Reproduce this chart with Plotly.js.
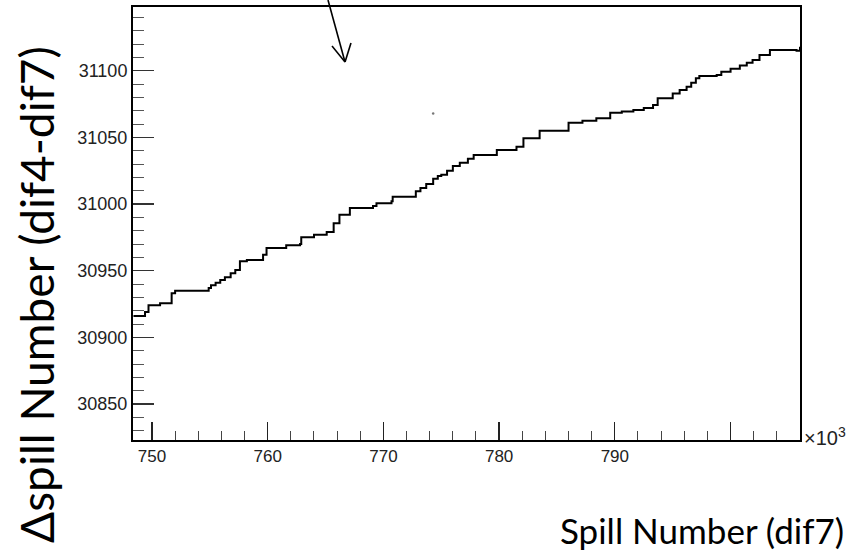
<!DOCTYPE html>
<html>
<head>
<meta charset="utf-8">
<script src="https://cdn.plot.ly/plotly-3.0.1.min.js"></script>
<style>html,body{margin:0;padding:0;background:#fff;}#chart{width:853px;height:552px;}</style>
</head>
<body>
<div id="chart"></div>
<script>
// Spill number (dif7), in units of 10^3
const spillX = [748.4, 749.4, 749.7, 750.7, 751.7, 752.0, 754.9, 755.1, 755.5, 755.9, 756.3, 756.8, 757.2, 757.6, 758.2,
  759.6, 759.9, 761.5, 761.6, 762.8, 762.9, 764.0, 765.1, 765.7, 766.2, 767.1, 769.1, 769.4, 770.7, 770.8,
  772.8, 773.2, 773.7, 774.3, 774.7, 775.0, 775.5, 776.0, 776.6, 777.3, 777.8, 779.8, 781.5, 782.1, 783.5,
  785.5, 786.0, 787.2, 788.4, 789.6, 790.6, 791.6, 792.5, 793.3, 793.7, 795.0, 795.6, 796.2, 796.6, 797.0,
  797.3, 798.8, 799.2, 800.0, 800.8, 801.4, 801.9, 802.5, 803.4, 805.7, 806.0];
// Δspill number (dif4 - dif7)
const deltaSpill = [30916, 30919, 30924, 30925.5, 30933, 30935, 30937, 30939, 30941, 30943, 30945, 30948, 30950.5, 30957, 30958,
  30962, 30967, 30967, 30969, 30970, 30975, 30977, 30979, 30985.5, 30992, 30997, 30998.5, 31000.5, 31002, 31005.5,
  31009.5, 31012, 31015, 31019, 31021, 31022, 31025, 31028.5, 31031, 31034, 31036.8, 31040.5, 31043, 31049.3, 31055,
  31055, 31061, 31062.5, 31064.3, 31068.5, 31069.5, 31070.5, 31072, 31074.3, 31079.3, 31083, 31085.5, 31088, 31091, 31094.3,
  31096, 31096.8, 31099.3, 31101.5, 31104, 31106, 31108, 31111.8, 31115.5, 31115, 31118];
// stray point
const strayX = [774.3];
const strayY = [31068];

const xTickVals = [750, 760, 770, 780, 790, 800];
const xTickText = ['750', '760', '770', '780', '790', ''];

const L = 133, R = 800, T = 7, B = 440, W = 853, H = 552;
const pw = R - L, ph = B - T;
const px = v => (v - L) / pw;
const py = v => (B - v) / ph;

const traces = [
  {x: spillX, y: deltaSpill, type: 'scatter', mode: 'lines',
   line: {color: '#000', width: 2, shape: 'hv'}, hoverinfo: 'skip', showlegend: false},
  {x: strayX, y: strayY, type: 'scatter', mode: 'markers',
   marker: {color: '#777', size: 2.5}, hoverinfo: 'skip', showlegend: false}
];

const tickFont = {family: '"Liberation Sans", Arial, sans-serif', size: 18, color: '#222'};

function seg(x0, y0, x1, y1) {
  return {type: 'line', xref: 'paper', yref: 'paper', x0: px(x0), y0: py(y0), x1: px(x1), y1: py(y1),
          line: {color: '#000', width: 1.6}, layer: 'above'};
}

const layout = {
  width: W, height: H,
  margin: {l: L, r: W - R, t: T, b: H - B, pad: 0},
  paper_bgcolor: '#fff', plot_bgcolor: '#fff',
  showlegend: false,
  xaxis: {
    range: [748.36, 806.0], showgrid: false, zeroline: false,
    showline: true, mirror: true, linecolor: '#000', linewidth: 2,
    tickmode: 'array', tickvals: xTickVals, ticktext: xTickText,
    ticks: 'inside', ticklen: 18, tickwidth: 1.3, tickcolor: '#222',
    minor: {dtick: 2, tick0: 750, ticks: 'inside', ticklen: 9, tickwidth: 1, tickcolor: '#444'},
    tickfont: {family: tickFont.family, size: 17, color: '#222'}
  },
  yaxis: {
    range: [30823, 31147.8], showgrid: false, zeroline: false,
    showline: true, mirror: true, linecolor: '#000', linewidth: 2,
    dtick: 50, tick0: 30850, tickformat: 'd',
    ticks: 'inside', ticklen: 21, tickwidth: 1.3, tickcolor: '#333',
    minor: {dtick: 10, tick0: 30850, ticks: 'inside', ticklen: 11, tickwidth: 1, tickcolor: '#555'},
    tickfont: tickFont
  },
  shapes: [
    seg(328, 0, 345, 62),
    seg(332, 46, 345, 62),
    seg(351, 43, 345, 62)
  ],
  annotations: [
    {xref: 'paper', yref: 'paper', x: px(36), y: py(295), text: 'Δspill Number (dif4-dif7)',
     textangle: -90, showarrow: false, xanchor: 'center', yanchor: 'middle',
     font: {family: 'Lato, "Open Sans", sans-serif', size: 46, color: '#000'}},
    {xref: 'paper', yref: 'paper', x: px(846), y: py(530), text: 'Spill Number (dif7)',
     showarrow: false, xanchor: 'right', yanchor: 'middle',
     font: {family: 'Lato, "Open Sans", sans-serif', size: 35, color: '#000'}},
    {xref: 'paper', yref: 'paper', x: px(802), y: py(436), text: '×10<sup>3</sup>',
     showarrow: false, xanchor: 'left', yanchor: 'middle',
     font: {family: '"Liberation Sans", Arial, sans-serif', size: 20, color: '#222'}}
  ]
};

Plotly.newPlot('chart', traces, layout, {staticPlot: true, displayModeBar: false});
</script>
</body>
</html>
